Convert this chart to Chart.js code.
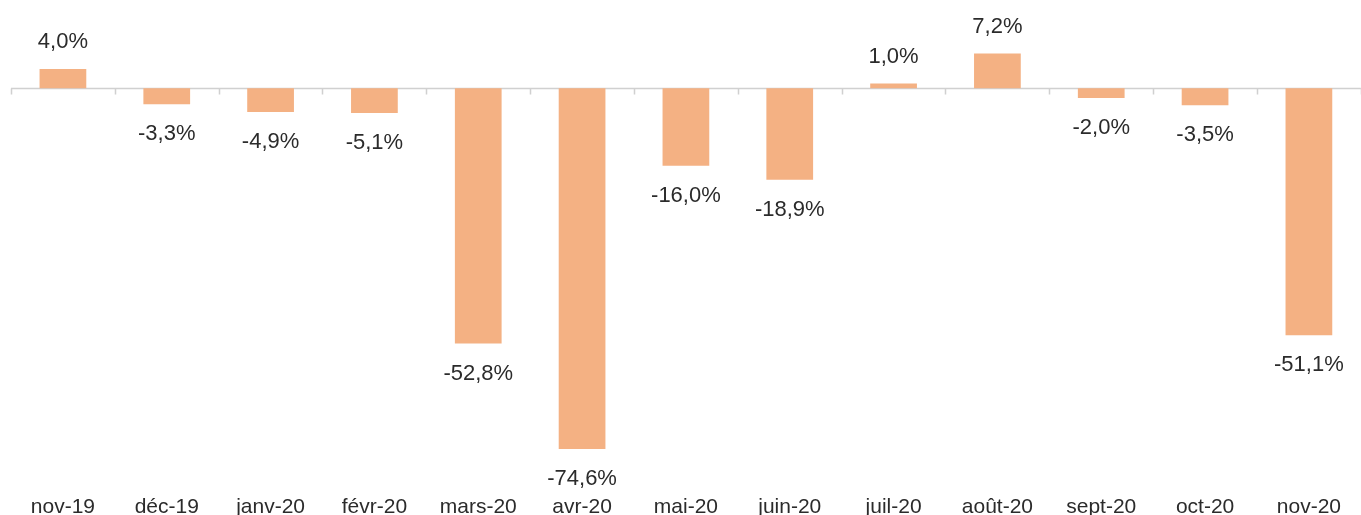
<!DOCTYPE html>
<html>
<head>
<meta charset="utf-8">
<script src="https://cdn.jsdelivr.net/npm/chart.js@4.4.1/dist/chart.umd.min.js"></script>
<style>
  html, body { margin: 0; padding: 0; background: #fff; }
  #wrap { width: 1361px; height: 515px; }
</style>
</head>
<body>
<div id="wrap"><canvas id="chart-var"></canvas></div>
<script>
  // Monthly variation, in %
  const months = ['nov-19', 'déc-19', 'janv-20', 'févr-20', 'mars-20', 'avr-20', 'mai-20',
    'juin-20', 'juil-20', 'août-20', 'sept-20', 'oct-20', 'nov-20'];
  const variation = [4.0, -3.3, -4.9, -5.1, -52.8, -74.6, -16.0, -18.9, 1.0, 7.2, -2.0, -3.5, -51.1];

  const barColor = '#f4b183';
  const textColor = '#2b2b2b';
  const fontFamily = '"Liberation Sans", Arial, sans-serif';

  function formatPct(v) {
    return v.toFixed(1).replace('.', ',') + '%';
  }

  // zero line with small ticks between categories
  const zeroLine = {
    id: 'zeroLine',
    beforeDatasetsDraw(chart) {
      const ctx = chart.ctx;
      const x = chart.scales.x;
      const y0 = Math.round(chart.scales.y.getPixelForValue(0)) + 0.5;
      const step = x.getPixelForValue(1) - x.getPixelForValue(0);
      ctx.save();
      ctx.strokeStyle = '#d0d0d0';
      ctx.lineWidth = 1.5;
      ctx.beginPath();
      ctx.moveTo(chart.chartArea.left, y0);
      ctx.lineTo(chart.chartArea.right, y0);
      for (let i = 0; i <= months.length; i++) {
        const px = Math.round(x.getPixelForValue(0) - step / 2 + i * step) + 0.5;
        ctx.moveTo(px, y0);
        ctx.lineTo(px, y0 + 6);
      }
      ctx.stroke();
      ctx.restore();
    }
  };

  const valueLabels = {
    id: 'valueLabels',
    afterDatasetsDraw(chart) {
      const ctx = chart.ctx;
      const meta = chart.getDatasetMeta(0);
      ctx.save();
      ctx.font = '22px ' + fontFamily;
      ctx.fillStyle = textColor;
      ctx.textAlign = 'center';
      ctx.textBaseline = 'middle';
      meta.data.forEach(function (bar, i) {
        const v = variation[i];
        const y = v >= 0 ? bar.y - 27 : bar.y + 30;
        ctx.fillText(formatPct(v), bar.x, y);
      });
      ctx.restore();
    }
  };

  new Chart(document.getElementById('chart-var'), {
    type: 'bar',
    data: {
      labels: months,
      datasets: [{
        data: variation,
        backgroundColor: barColor,
        borderWidth: 0,
        barPercentage: 0.45,
        categoryPercentage: 1
      }]
    },
    options: {
      responsive: true,
      maintainAspectRatio: false,
      animation: false,
      layout: { padding: { left: 11, right: 0, top: 40, bottom: 0 } },
      plugins: { legend: { display: false }, tooltip: { enabled: false } },
      scales: {
        x: {
          grid: { display: false, drawTicks: false },
          border: { display: false },
          afterFit: function (scale) { scale.height = 40; },
          ticks: {
            color: textColor,
            font: { family: fontFamily, size: 21 },
            padding: 20,
            maxRotation: 0,
            autoSkip: false
          }
        },
        y: {
          display: false,
          min: -80,
          max: 10
        }
      }
    },
    plugins: [zeroLine, valueLabels]
  });
</script>
</body>
</html>
